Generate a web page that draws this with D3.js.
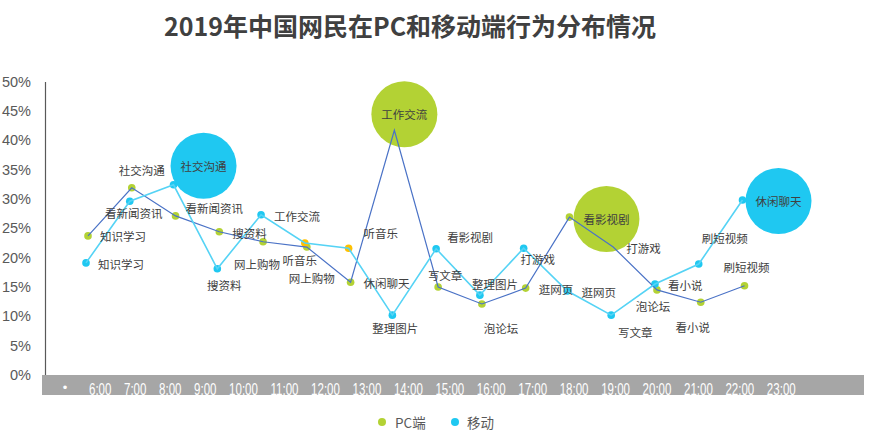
<!DOCTYPE html>
<html><head><meta charset="utf-8">
<script src="https://cdn.jsdelivr.net/npm/d3@7"></script>
<style>body{margin:0;background:#fff;} svg{display:block;}</style>
</head><body><svg id="c" width="875" height="437"></svg>
<script>
// ---------------- data ----------------
const hours = ['6:00','7:00','8:00','9:00','10:00','11:00','12:00','13:00','14:00','15:00','16:00','17:00','18:00','19:00','20:00','21:00'];
const tickLabels = ['•','6:00','7:00','8:00','9:00','10:00','11:00','12:00','13:00','14:00','15:00','16:00','17:00','18:00','19:00','20:00','21:00','22:00','23:00'];
const yTicks = [0,0.05,0.10,0.15,0.20,0.25,0.30,0.35,0.40,0.45,0.50];
const seriesNames = ['PC端','移动'];
const pcValues = [0.237,0.319,0.271,0.244,0.227,0.218,0.158,0.417,0.150,0.121,0.148,0.269,0.218,0.145,0.124,0.152];
const pcActs = ['知识学习','社交沟通','看新闻资讯','搜资料','网上购物','听音乐','休闲聊天','工作交流','写文章','泡论坛','逛网页','看影视剧','打游戏','泡论坛','看小说','刷短视频'];
const mobileValues = [0.191,0.296,0.324,0.181,0.273,0.225,0.216,0.102,0.215,0.136,0.216,0.143,0.102,0.155,0.189,0.298];
const mobileActs = ['知识学习','看新闻资讯','社交沟通','搜资料','工作交流','网上购物','听音乐','整理图片','看影视剧','整理图片','打游戏','逛网页','写文章','看小说','刷短视频','休闲聊天'];
const pcPeakHours = ['13:00','17:00'];
const mobilePeakHours = ['8:00','21:00'];
const mobileHighlightHours = ['11:00','12:00'];

// ---------------- layout / style ----------------
const colors = {pc:'#b3d234', mobile:'#1fc8f1', orange:'#ffc000', pcLine:'#4a72c6', mobileLine:'#55d3f5', text:'#404040', axis:'#595959', bar:'#a6a6a6'};
// label placement [anchor, dx, dy] per point (null => shown in bubble)
const pcLabelPos = [['start',12,0],['middle',10,-18],['start',10,-8],['start',13,1],['middle',-6,22],['middle',-7,13],['start',13,1],null,['middle',7,-12],['middle',19,24],['start',13,1],null,['start',13,1],['middle',-4,16],['middle',-8,25],['middle',2,-19]];
const mobileLabelPos = [['start',12,1],['middle',4,12],null,['middle',7,16],['start',13,1],['middle',7,35],['start',15,-15],['middle',3,13],['start',11,-12],['middle',15,-11],['middle',14,11],['start',14,1],['middle',24,17],['start',13,1],['middle',26,-26],null];
const pcBubbleOffset = [[10,-16],[37,2]];
const mobileBubbleOffset = [[30,-19],[36,1]];

const svg = d3.select('#c');
const x = d3.scalePoint().domain(hours).range([87,743.5]);
const y = d3.scaleLinear().domain([0,0.5]).range([375,81.5]);
const cjk = '"Noto Sans CJK SC","Microsoft YaHei",sans-serif';
const latin = '"Liberation Sans",Arial,sans-serif';

// title
svg.append('text').attr('x',410).attr('y',25).attr('text-anchor','middle').attr('dominant-baseline','central')
  .attr('font-family',cjk).attr('font-weight',700).attr('font-size',25).attr('fill',colors.text)
  .text('2019年中国网民在PC和移动端行为分布情况');

// y axis
const yAxis = d3.axisLeft(y).tickValues(yTicks).tickFormat(d3.format('.0%')).tickSize(0).tickSizeOuter(0).tickPadding(14);
const ga = svg.append('g').attr('transform','translate(45,0)').call(yAxis);
ga.select('.domain').attr('stroke',colors.axis).attr('stroke-width',1.2);
ga.selectAll('text').attr('font-family',latin).attr('font-size',14.5).attr('fill',colors.axis);

// x category bar
svg.append('rect').attr('x',42).attr('y',375).attr('width',822).attr('height',20).attr('fill',colors.bar);
const gx = svg.append('g');
gx.append('text').attr('x',65).attr('y',392).attr('text-anchor','middle').attr('fill','#fff')
  .attr('font-family',latin).attr('font-size',13).text(tickLabels[0]);
let cursor = 89;
tickLabels.slice(1).forEach(t=>{
  const el = gx.append('text').attr('x',cursor).attr('y',395).attr('fill','#fff')
    .attr('font-family',latin).attr('font-size',16).text(t);
  const w = el.node().getComputedTextLength()*0.72;
  el.attr('textLength',w).attr('lengthAdjust','spacingAndGlyphs');
  cursor += w + 12.6;
});

// series
const series = [
  {key:'pc', vals:pcValues, acts:pcActs, peaks:pcPeakHours, offs:pcBubbleOffset, lab:pcLabelPos, color:colors.pc, line:colors.pcLine, dx:1, lw:1.2},
  {key:'mobile', vals:mobileValues, acts:mobileActs, peaks:mobilePeakHours, offs:mobileBubbleOffset, lab:mobileLabelPos, color:colors.mobile, line:colors.mobileLine, dx:-1, lw:1.6}
];
const pts = s => hours.map((h,i)=>({h,i,v:s.vals[i],a:s.acts[i],px:x(h)+s.dx,py:y(s.vals[i])}));

// points
series.forEach(s=>{
  svg.append('g').selectAll('circle').data(pts(s)).join('circle')
    .attr('cx',d=>d.px).attr('cy',d=>d.py).attr('r',3.8)
    .attr('fill',d=> s.key==='mobile' && mobileHighlightHours.includes(d.h) ? colors.orange : s.color);
});
// bubbles
series.forEach(s=>{
  const bp = pts(s).filter(d=>s.peaks.includes(d.h));
  const g = svg.append('g');
  bp.forEach((d,k)=>{
    const cx = d.px + s.offs[k][0], cy = d.py + s.offs[k][1];
    g.append('circle').attr('cx',cx).attr('cy',cy).attr('r',33).attr('fill',s.color);
    g.append('text').attr('x',cx).attr('y',cy).attr('text-anchor','middle').attr('dominant-baseline','central')
      .attr('font-family',cjk).attr('font-size',11.5).attr('fill',colors.text).text(d.a);
  });
});
// lines
series.forEach(s=>{
  const line = d3.line().x(d=>d.px).y(d=>d.py);
  svg.append('path').datum(pts(s)).attr('d',line).attr('fill','none').attr('stroke',s.line).attr('stroke-width',s.lw);
});
// labels
series.forEach(s=>{
  const g = svg.append('g');
  pts(s).forEach(d=>{
    const p = s.lab[d.i]; if(!p) return;
    g.append('text').attr('x',d.px+p[1]).attr('y',d.py+p[2]).attr('text-anchor',p[0]).attr('dominant-baseline','central')
      .attr('font-family',cjk).attr('font-size',11.5).attr('fill',colors.text).text(d.a);
  });
});

// legend
const leg = svg.append('g');
[[382,395,colors.pc,seriesNames[0]],[455,467,colors.mobile,seriesNames[1]]].forEach(([cx,tx,c,t])=>{
  leg.append('circle').attr('cx',cx).attr('cy',422).attr('r',4).attr('fill',c);
  leg.append('text').attr('x',tx).attr('y',422).attr('dominant-baseline','central').attr('font-family',cjk)
    .attr('font-size',13.5).attr('fill',colors.axis).text(t);
});
</script></body></html>
